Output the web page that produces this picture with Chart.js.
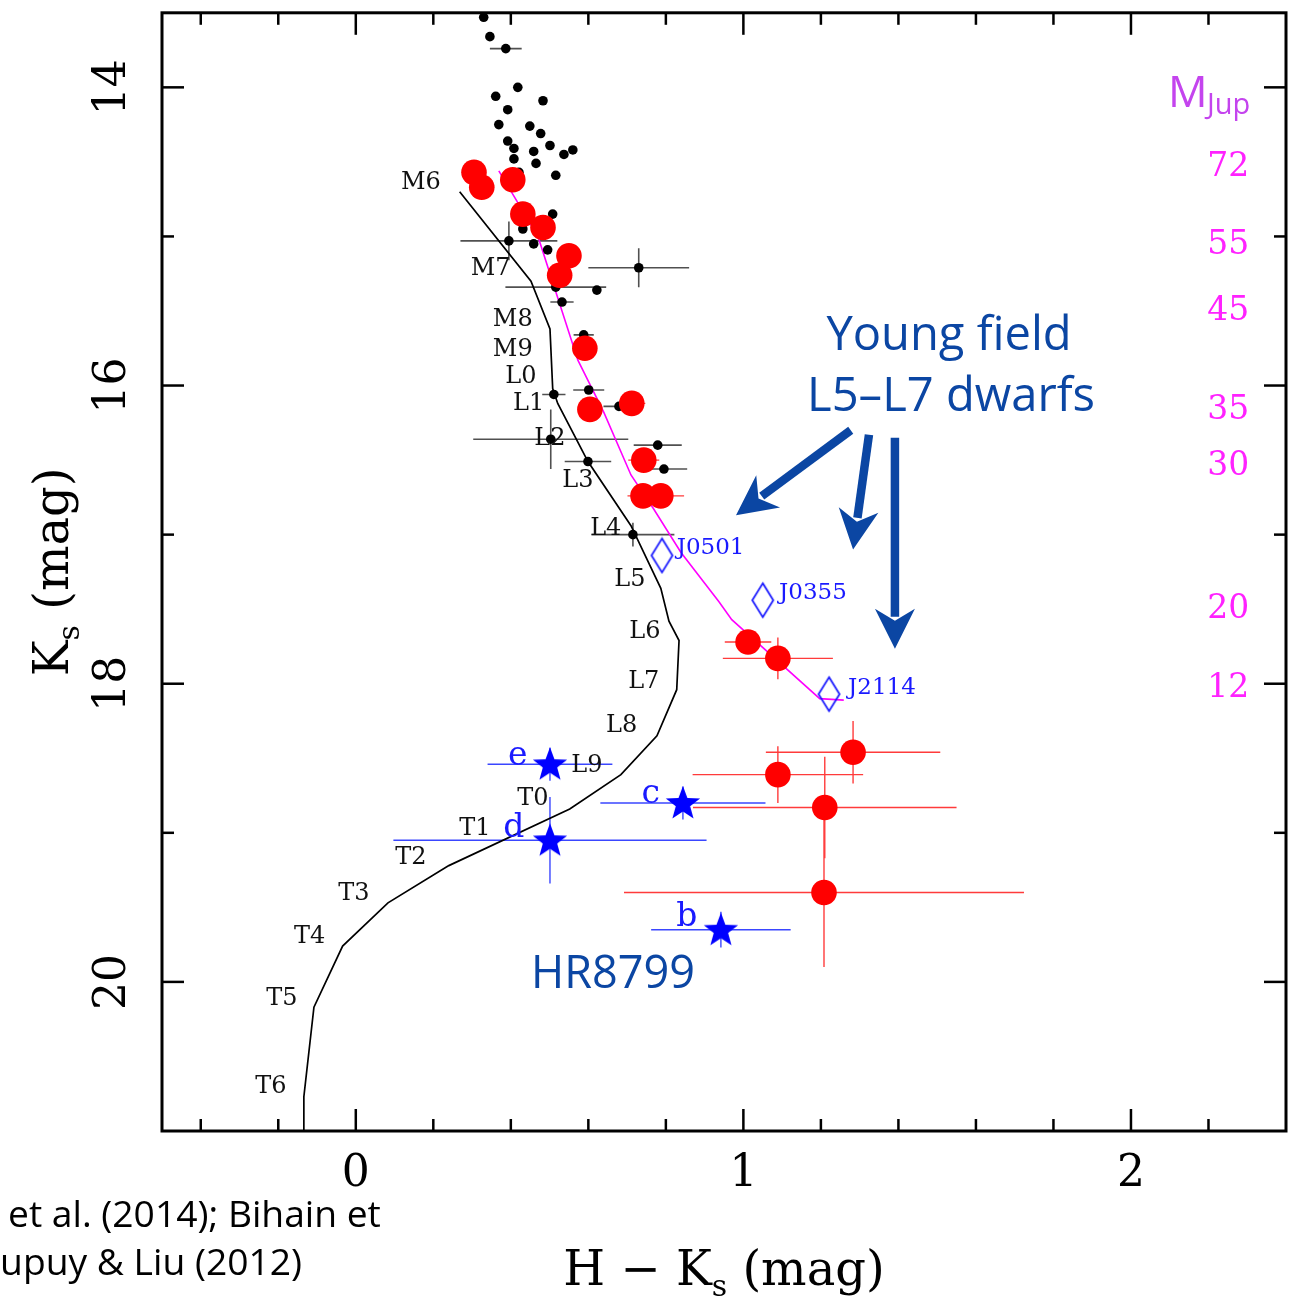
<!DOCTYPE html>
<html><head><meta charset="utf-8">
<script src="https://cdn.jsdelivr.net/npm/chart.js@4/dist/chart.umd.min.js"></script>
<style>html,body{margin:0;padding:0;background:#fff}#wrap{width:1304px;height:1301px;position:relative}</style>
</head><body><div id="wrap"><canvas id="c" width="1304" height="1301" style="width:1304px;height:1301px"></canvas></div>
<script>
// ---------- DATA ----------
// Field spectral sequence (H-Ks vs Ks)
const seqX = [0.268,0.452,0.501,0.508,0.521,0.599,0.710,0.787,0.808,0.834,0.828,0.777,0.684,0.552,0.240,0.083,-0.034,-0.108,-0.134,-0.134];
const seqY = [14.70,15.30,15.62,16.02,16.12,16.51,16.94,17.36,17.58,17.71,18.04,18.35,18.61,18.84,19.22,19.47,19.76,20.17,20.77,21.00];
// Young mass track (magenta)
const trackX = [0.369,0.470,0.542,0.573,0.640,0.710,0.769,0.839,0.937,0.970,1.197,1.259];
const trackY = [14.56,15.00,15.58,15.83,16.18,16.60,16.83,17.12,17.45,17.57,18.10,18.11];
// Field objects (black dots)
const fieldX = [0.330,0.346,0.387,0.418,0.361,0.483,0.392,0.369,0.449,0.477,0.392,0.408,0.459,0.501,0.560,0.537,0.465,0.408,0.516,0.421,0.508,0.431,0.395,0.459,0.495,0.730,0.516,0.622,0.532,0.588,0.601,0.511,0.679,0.503,0.779,0.599,0.795,0.715];
const fieldY = [13.53,13.66,13.74,14.00,14.06,14.09,14.15,14.25,14.26,14.31,14.36,14.41,14.43,14.39,14.42,14.45,14.51,14.48,14.59,14.57,14.85,14.95,15.03,15.05,15.09,15.21,15.34,15.36,15.44,15.66,16.03,16.06,16.14,16.36,16.40,16.51,16.56,17.00];
const fieldXErr = [0,0,0.041,0,0,0,0,0,0,0,0,0,0,0,0,0,0,0,0,0,0,0,0.125,0,0,0.13,0.13,0,0.03,0.026,0.04,0.03,0.04,0.20,0.062,0.06,0.06,0.107];
const fieldYErr = [0,0,0,0,0,0,0,0,0,0,0,0,0,0,0,0,0,0,0,0,0,0,0.13,0,0,0.13,0,0,0,0,0,0,0,0.20,0,0,0,0.08];
// Young objects (red circles)
const youngX = [0.305,0.325,0.405,0.431,0.483,0.550,0.526,0.591,0.604,0.712,0.743,0.741,0.787,1.012,1.089,1.283,1.089,1.210,1.208];
const youngY = [14.57,14.67,14.62,14.85,14.94,15.13,15.26,15.75,16.16,16.12,16.50,16.74,16.74,17.72,17.83,18.46,18.61,18.83,19.40];
const youngXErr = [0,0,0,0,0,0,0,0,0.03,0.035,0.04,0.04,0.06,0.06,0.142,0.225,0.22,0.34,0.516];
const youngYErr = [0,0,0,0,0,0,0,0,0,0,0,0,0,0,0.14,0.21,0.19,0.34,0.50];
// HR 8799 planets (blue stars)
const hrNames = ['b','c','d','e'];
const hrX = [0.942,0.844,0.501,0.501];
const hrY = [19.65,18.80,19.05,18.54];
const hrXErr = [0.18,0.213,0.404,0.161];
const hrYErr = [0.12,0.11,0.29,0.11];
// Young field L5-L7 dwarfs (open diamonds)
const l57Names = ['J0501','J0355','J2114'];
const l57X = [0.790,1.050,1.221];
const l57Y = [17.14,17.44,18.07];
// Spectral type labels along the sequence
const spTypes = ['M6','M7','M8','M9','L0','L1','L2','L3','L4','L5','L6','L7','L8','L9','T0','T1','T2','T3','T4','T5','T6'];
// Mass scale (M_Jup) along the track
const massLabels = ['72','55','45','35','30','20','12'];
const massKs = [14.54,15.06,15.50,16.17,16.54,17.50,18.03];
// Axis ticks
const xMajorTicks = [0,1,2];
const xMinorTicks = [-0.4,-0.2,0.2,0.4,0.6,0.8,1.2,1.4,1.6,1.8,2.2];
const yMajorTicks = [14,16,18,20];
const yMinorTicks = [15,17,19];

// ---------- ANNOTATION PLACEMENT (data units) ----------
const spLabelPos = [[0.168,14.64],[0.348,15.22],[0.405,15.56],[0.405,15.76],[0.426,15.94],[0.446,16.12],[0.501,16.36],[0.573,16.64],[0.645,16.96],[0.707,17.30],[0.746,17.65],[0.743,17.99],[0.686,18.28],[0.596,18.55],[0.457,18.77],[0.307,18.97],[0.142,19.17],[-0.005,19.41],[-0.119,19.70],[-0.191,20.11],[-0.219,20.70]];
const hrLabelPos = [[0.854,19.57],[0.761,18.74],[0.408,18.97],[0.418,18.49]];
const l57LabelPos = [[0.828,17.09],[1.092,17.39],[1.270,18.03]];
const arrows = [[[1.277,16.30],[0.981,16.87]],[[1.324,16.33],[1.283,17.10]],[[1.391,16.35],[1.391,17.765]]];

// ---------- MARKER IMAGES ----------
function makeStar(r, color){
  const s = Math.ceil(2*r)+2, c = document.createElement('canvas');
  c.width = s; c.height = s;
  const g = c.getContext('2d');
  g.fillStyle = color; g.beginPath();
  for (let i=0;i<10;i++){
    const a = -Math.PI/2 + i*Math.PI/5, rr = (i%2) ? r*0.42 : r;
    g.lineTo(s/2 + rr*Math.cos(a), s/2 + 1 + rr*Math.sin(a));
  }
  g.closePath(); g.fill();
  return c;
}
function makeDiamond(w, h, color){
  const c = document.createElement('canvas');
  c.width = w+4; c.height = h+4;
  const g = c.getContext('2d');
  g.strokeStyle = color; g.lineWidth = 1.7;
  const cx = c.width/2, cy = c.height/2;
  g.beginPath(); g.moveTo(cx, 2); g.lineTo(cx + w/2, cy); g.lineTo(cx, h+2); g.lineTo(cx - w/2, cy); g.closePath(); g.stroke();
  return c;
}
const starImg = makeStar(18, '#0000ff');
const diamondImg = makeDiamond(21, 34, '#1414ff');

const pts = (xs, ys) => xs.map((x,i)=>({x, y: ys[i]}));

const SERIF = '"DejaVu Serif", serif';
const SANS = '"Open Sans", "Noto Sans", sans-serif';
const BLUE_TXT = '#0b46a3';

function drawErr(ctx, sx, sy, xs, ys, xe, ye, color, lw){
  ctx.strokeStyle = color; ctx.lineWidth = lw;
  for (let i=0;i<xs.length;i++){
    const px = sx.getPixelForValue(xs[i]), py = sy.getPixelForValue(ys[i]);
    if (xe[i] > 0){
      ctx.beginPath();
      ctx.moveTo(sx.getPixelForValue(xs[i]-xe[i]), py);
      ctx.lineTo(sx.getPixelForValue(xs[i]+xe[i]), py);
      ctx.stroke();
    }
    if (ye[i] > 0){
      ctx.beginPath();
      ctx.moveTo(px, sy.getPixelForValue(ys[i]-ye[i]));
      ctx.lineTo(px, sy.getPixelForValue(ys[i]+ye[i]));
      ctx.stroke();
    }
  }
}
function fitSize(ctx, text, targetW, family, weight){
  ctx.font = `${weight||'normal'} 100px ${family}`;
  return 100*targetW/ctx.measureText(text).width;
}
function drawArrow(ctx, x0, y0, x1, y1, color){
  const ang = Math.atan2(y1-y0, x1-x0), hl = 40, hw = 20;
  const bx = x1 - hl*Math.cos(ang), by = y1 - hl*Math.sin(ang);
  ctx.strokeStyle = color; ctx.fillStyle = color; ctx.lineWidth = 8.5; ctx.lineCap = 'butt';
  ctx.beginPath(); ctx.moveTo(x0, y0); ctx.lineTo(bx + 8*Math.cos(ang), by + 8*Math.sin(ang)); ctx.stroke();
  ctx.beginPath();
  ctx.moveTo(x1, y1);
  ctx.lineTo(bx + hw*Math.sin(ang), by - hw*Math.cos(ang));
  ctx.lineTo(bx + 0.3*hl*Math.cos(ang), by + 0.3*hl*Math.sin(ang));
  ctx.lineTo(bx - hw*Math.sin(ang), by + hw*Math.cos(ang));
  ctx.closePath(); ctx.fill();
}

const overlay = {
  id: 'overlay',
  beforeDatasetsDraw(chart){
    const {ctx, chartArea: a, scales: {x, y}} = chart;
    ctx.save();
    ctx.beginPath(); ctx.rect(a.left, a.top, a.right-a.left, a.bottom-a.top); ctx.clip();
    drawErr(ctx, x, y, fieldX, fieldY, fieldXErr, fieldYErr, '#505050', 1.6);
    drawErr(ctx, x, y, youngX, youngY, youngXErr, youngYErr, '#ff3b3b', 1.4);
    drawErr(ctx, x, y, hrX, hrY, hrXErr, hrYErr, '#3a46ff', 1.4);
    ctx.restore();
  },
  afterDatasetsDraw(chart){
    const {ctx, chartArea: a, scales: {x, y}} = chart;
    ctx.save();
    // spectral types
    ctx.fillStyle = '#111'; ctx.font = `24px ${SERIF}`; ctx.textAlign = 'center'; ctx.textBaseline = 'middle';
    spTypes.forEach((t,i)=> ctx.fillText(t, x.getPixelForValue(spLabelPos[i][0]), y.getPixelForValue(spLabelPos[i][1])));
    // HR 8799 planet letters
    ctx.fillStyle = '#1a1aff'; ctx.font = `33px ${SERIF}`;
    hrNames.forEach((t,i)=> ctx.fillText(t, x.getPixelForValue(hrLabelPos[i][0]), y.getPixelForValue(hrLabelPos[i][1])));
    // L5-L7 names
    ctx.fillStyle = '#1a1aff'; ctx.font = `23px ${SERIF}`; ctx.textAlign = 'left';
    l57Names.forEach((t,i)=> ctx.fillText(t, x.getPixelForValue(l57LabelPos[i][0]), y.getPixelForValue(l57LabelPos[i][1])));
    // mass labels
    ctx.fillStyle = '#ff22ff'; ctx.font = `33px ${SERIF}`; ctx.textAlign = 'right';
    massLabels.forEach((t,i)=> ctx.fillText(t, x.getPixelForValue(2.305), y.getPixelForValue(massKs[i])));
    // M_Jup
    ctx.fillStyle = '#c444ee'; ctx.textAlign = 'left'; ctx.textBaseline = 'alphabetic';
    ctx.font = `500 44px ${SANS}`; ctx.fillText('M', 1168, 107);
    ctx.font = `500 29px ${SANS}`; ctx.fillText('Jup', 1207, 114);
    // Arrows
    arrows.forEach(ar => drawArrow(ctx, x.getPixelForValue(ar[0][0]), y.getPixelForValue(ar[0][1]), x.getPixelForValue(ar[1][0]), y.getPixelForValue(ar[1][1]), BLUE_TXT));
    // Young field text
    ctx.fillStyle = BLUE_TXT; ctx.textAlign = 'center'; ctx.textBaseline = 'middle';
    let fs = fitSize(ctx, 'L5\u2013L7 dwarfs', 288, SANS, 'normal');
    ctx.font = `${fs}px ${SANS}`;
    ctx.fillText('Young field', 949, 337);
    ctx.fillText('L5\u2013L7 dwarfs', 951, 398);
    fs = fitSize(ctx, 'HR8799', 164, SANS, 'normal');
    ctx.font = `${fs}px ${SANS}`;
    ctx.fillText('HR8799', 613, 975);
    ctx.restore();
  },
  afterDraw(chart){
    const {ctx, chartArea: a, scales: {x, y}} = chart;
    ctx.save();
    // frame
    ctx.strokeStyle = '#000'; ctx.lineWidth = 3;
    ctx.strokeRect(a.left, a.top, a.right-a.left, a.bottom-a.top);
    // ticks
    ctx.lineWidth = 2.5;
    const tick = (x0,y0,x1,y1)=>{ctx.beginPath(); ctx.moveTo(x0,y0); ctx.lineTo(x1,y1); ctx.stroke();};
    const xt = (v, L)=>{ const p = x.getPixelForValue(v); tick(p, a.bottom, p, a.bottom-L); tick(p, a.top, p, a.top+L); };
    const yt = (v, L)=>{ const p = y.getPixelForValue(v); tick(a.left, p, a.left+L, p); tick(a.right, p, a.right-L, p); };
    xMajorTicks.forEach(v=>xt(v,22)); xMinorTicks.forEach(v=>xt(v,12));
    yMajorTicks.forEach(v=>yt(v,22)); yMinorTicks.forEach(v=>yt(v,12));
    // tick labels
    ctx.fillStyle = '#000'; ctx.font = `44px ${SERIF}`; ctx.textAlign = 'center'; ctx.textBaseline = 'middle';
    xMajorTicks.forEach(v=> ctx.fillText(String(v), x.getPixelForValue(v), a.bottom + 44));
    yMajorTicks.forEach(v=>{
      ctx.save(); ctx.translate(a.left - 48, y.getPixelForValue(v)); ctx.rotate(-Math.PI/2);
      ctx.fillText(String(v), 0, 0); ctx.restore();
    });
    // axis titles
    const big = `48px ${SERIF}`, sub = `30px ${SERIF}`;
    const titleParts = (pre) => {
      ctx.font = big; const w1 = ctx.measureText(pre + 'K').width;
      ctx.font = sub; const w2 = ctx.measureText('s').width;
      ctx.font = big; const w3 = ctx.measureText(' (mag)').width;
      return [w1, w2, w3];
    };
    ctx.textAlign = 'left'; ctx.textBaseline = 'alphabetic';
    let [w1,w2,w3] = titleParts('H \u2212 ');
    let sx = (a.left + a.right)/2 - (w1+w2+w3)/2, by = 1285;
    ctx.font = big; ctx.fillText('H \u2212 K', sx, by);
    ctx.font = sub; ctx.fillText('s', sx + w1, by + 11);
    ctx.font = big; ctx.fillText(' (mag)', sx + w1 + w2, by);
    [w1,w2,w3] = titleParts('');
    ctx.save(); ctx.translate(68, (a.top + a.bottom)/2); ctx.rotate(-Math.PI/2);
    sx = -(w1+w2+w3)/2;
    ctx.font = big; ctx.fillText('K', sx, 0);
    ctx.font = sub; ctx.fillText('s', sx + w1, 11);
    ctx.font = big; ctx.fillText(' (mag)', sx + w1 + w2, 0);
    ctx.restore();
    // references (cropped footnote)
    const fn = fitSize(ctx, 'et al. (2014); Bihain et', 373, SANS, 'normal');
    ctx.font = `${fn}px ${SANS}`; ctx.textBaseline = 'middle';
    ctx.textAlign = 'left'; ctx.fillText('et al. (2014); Bihain et', 8, 1216);
    ctx.textAlign = 'right'; ctx.fillText('Dupuy & Liu (2012)', 302, 1264);
    ctx.restore();
  }
};

new Chart(document.getElementById('c'), {
  type: 'scatter',
  data: {
    datasets: [
      {label: 'Field sequence', data: pts(seqX, seqY), showLine: true, borderColor: '#000', borderWidth: 1.7, pointRadius: 0, fill: false, order: 6},
      {label: 'Young track', data: pts(trackX, trackY), showLine: true, borderColor: '#ff00ff', borderWidth: 1.6, pointRadius: 0, fill: false, order: 5},
      {label: 'Field dwarfs', data: pts(fieldX, fieldY), pointRadius: 4.8, backgroundColor: '#000', borderWidth: 0, order: 4},
      {label: 'Young dwarfs', data: pts(youngX, youngY), pointRadius: 12.8, backgroundColor: '#ff0000', borderWidth: 0, order: 3},
      {label: 'HR 8799', data: pts(hrX, hrY), pointStyle: starImg, pointRadius: 10, order: 2},
      {label: 'Young L5-L7', data: pts(l57X, l57Y), pointStyle: diamondImg, pointRadius: 10, order: 1}
    ]
  },
  options: {
    responsive: false, animation: false, events: [],
    layout: {padding: {left: 162, right: 18, top: 8, bottom: 170}},
    plugins: {legend: {display: false}, tooltip: {enabled: false}},
    scales: {
      x: {type: 'linear', min: -0.5, max: 2.4, display: false},
      y: {type: 'linear', min: 13.5, max: 21, reverse: true, display: false}
    }
  },
  plugins: [overlay]
});
</script>
</body></html>
